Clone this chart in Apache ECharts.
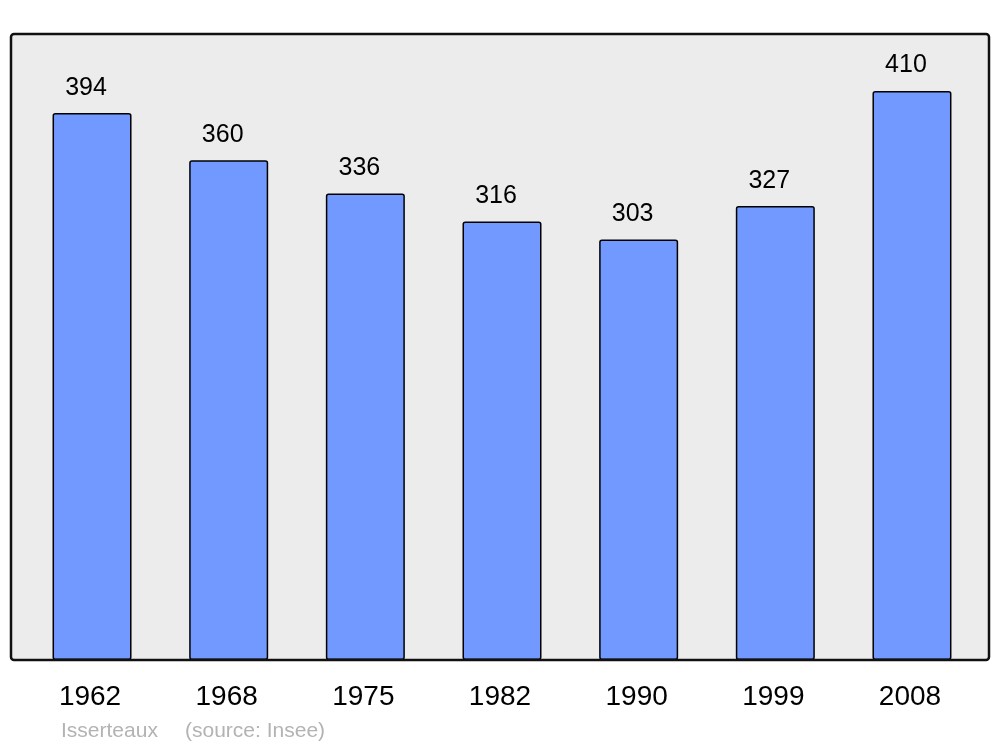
<!DOCTYPE html>
<html>
<head>
<meta charset="utf-8">
<script src="https://cdn.jsdelivr.net/npm/echarts@6/dist/echarts.min.js"></script>
<style>
  html, body { margin: 0; padding: 0; background: #fff; }
  #chart-box { width: 1000px; height: 747px; }
</style>
</head>
<body>
<div id="chart-box"></div>
<script>
    // population per census year
    var years = ['1962', '1968', '1975', '1982', '1990', '1999', '2008'];
    var population = [394, 360, 336, 316, 303, 327, 410];
    var townName = 'Isserteaux';
    var sourceText = '(source: Insee)';

    var myChart = echarts.init(document.getElementById('chart-box'));

    var option = {
        animation: false,
        textStyle: { fontFamily: 'Liberation Sans, Arial, sans-serif' },
        graphic: [
            {
                type: 'rect',
                z: -10,
                shape: { x: 11, y: 34, width: 978, height: 626, r: 3 },
                style: { fill: '#ececec', stroke: null }
            },
            {
                type: 'rect',
                z: 100,
                shape: { x: 11, y: 34, width: 978, height: 626, r: 3 },
                style: { fill: null, stroke: '#111', lineWidth: 2.5 }
            },
            {
                type: 'text',
                left: 61,
                top: 721,
                style: { text: townName, fill: '#b3b3b3', fontSize: 21, fontFamily: 'Liberation Sans, Arial, sans-serif' }
            },
            {
                type: 'text',
                left: 185,
                top: 721,
                style: { text: sourceText, fill: '#b3b3b3', fontSize: 21, fontFamily: 'Liberation Sans, Arial, sans-serif' }
            }
        ],
        grid: {
            left: 23.7,
            right: 19.7,
            top: 34,
            bottom: 87,
            containLabel: false
        },
        xAxis: {
            type: 'category',
            data: years,
            axisLine: { show: false },
            axisTick: { show: false },
            axisLabel: { color: '#000', fontSize: 28, margin: 23, padding: [0, 4, 0, 0] }
        },
        yAxis: {
            type: 'value',
            min: 0,
            max: 451,
            show: false,
            splitLine: { show: false }
        },
        series: [
            {
                type: 'bar',
                data: population,
                barWidth: 79,
                itemStyle: {
                    color: '#7299ff',
                    borderColor: '#000',
                    borderWidth: 1.5,
                    borderRadius: 2
                },
                label: {
                    show: true,
                    position: 'top',
                    distance: 15,
                    offset: [-6, 2],
                    color: '#000',
                    fontSize: 25
                }
            }
        ]
    };

    myChart.setOption(option, true);
</script>
</body>
</html>
